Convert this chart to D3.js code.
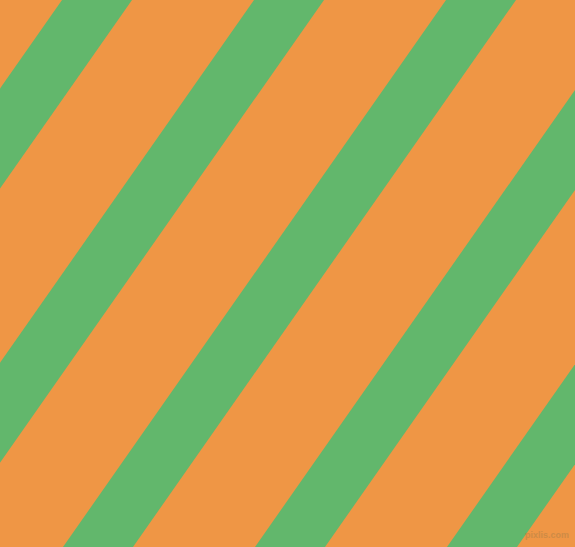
<!DOCTYPE html>
<html>
<head>
<meta charset="utf-8">
<script src="https://cdn.jsdelivr.net/npm/d3@7"></script>
<style>
  html, body { margin: 0; padding: 0; background: #ef9645; overflow: hidden; }
</style>
</head>
<body>
<div id="chart"></div>
<script>
// Stripe data: index of each green band, counted from the top-left one
const stripeIndex = [-2, -1, 0, 1, 2, 3, 4];
const stripeAngle = 55;          // degrees from horizontal
const bandStartTop = [62, 254];  // left edge at y=0 for index 0 and 1
const bandWidthTop = 70;         // horizontal width of a band
const colors = { background: "#ef9645", stripe: "#62b76c" };

const width = 575, height = 547;

const svg = d3.select("#chart")
    .append("svg")
    .attr("width", width)
    .attr("height", height);

svg.append("rect")
    .attr("width", width)
    .attr("height", height)
    .attr("fill", colors.background);

const x = d3.scaleLinear().domain([0, 1]).range(bandStartTop);
const run = 1 / Math.tan(stripeAngle * Math.PI / 180);

// parallelogram for each band, extended past the edges
const y0 = -20, y1 = height + 20;
svg.selectAll(".stripe")
    .data(stripeIndex)
    .enter()
    .append("polygon")
    .attr("class", "stripe")
    .attr("fill", colors.stripe)
    .attr("points", d => {
        const xl = x(d);
        const xr = xl + bandWidthTop;
        return [
            [xl - y0 * run, y0],
            [xr - y0 * run, y0],
            [xr - y1 * run, y1],
            [xl - y1 * run, y1]
        ].map(p => p.join(",")).join(" ");
    });

// watermark
svg.append("text")
    .attr("x", 569)
    .attr("y", 538)
    .attr("text-anchor", "end")
    .attr("font-family", "Liberation Sans, Arial, sans-serif")
    .attr("font-weight", "bold")
    .attr("font-size", 9)
    .attr("fill", "#c98a45")
    .attr("opacity", 0.85)
    .text("pixlis.com");
</script>
</body>
</html>
